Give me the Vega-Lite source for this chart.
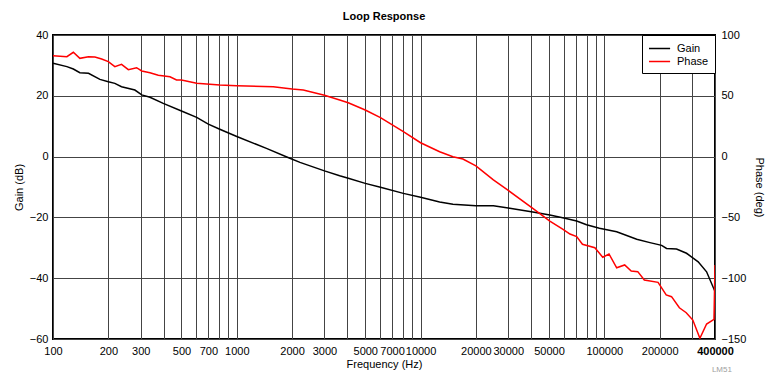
{
  "$schema": "https://vega.github.io/schema/vega-lite/v6.json",
  "width": 662,
  "height": 304,
  "autosize": "none",
  "padding": {"left": 53, "top": 35, "right": 63, "bottom": 35},
  "background": "white",
  "title": {"text": "Loop Response", "fontSize": 11, "fontWeight": "bold", "font": "Liberation Sans", "offset": 7, "color": "black"},
  "config": {
    "font": "Liberation Sans",
    "view": {"stroke": "black", "strokeWidth": 2},
    "axis": {"labelFont": "Liberation Sans", "titleFont": "Liberation Sans", "labelFontSize": 11, "titleFontSize": 11, "titleFontWeight": "normal", "labelColor": "black", "titleColor": "black", "gridColor": "#444", "gridOpacity": 1, "gridWidth": 1, "ticks": false, "domain": false}
  },
  "datasets": {
    "gain": [
      {"f": 100, "g": 30.7}, {"f": 119, "g": 29.6}, {"f": 129, "g": 28.8}, {"f": 140, "g": 27.6},
      {"f": 156, "g": 27.4}, {"f": 180, "g": 25.4}, {"f": 200, "g": 24.6}, {"f": 217, "g": 24.1},
      {"f": 236, "g": 23.0}, {"f": 279, "g": 21.9}, {"f": 304, "g": 20.3}, {"f": 337, "g": 19.5},
      {"f": 398, "g": 17.5}, {"f": 500, "g": 15.0}, {"f": 605, "g": 12.9}, {"f": 700, "g": 10.7},
      {"f": 808, "g": 9.0}, {"f": 1000, "g": 6.6}, {"f": 1450, "g": 2.7}, {"f": 1900, "g": -0.3},
      {"f": 2207, "g": -1.9}, {"f": 3000, "g": -4.7}, {"f": 3630, "g": -6.3}, {"f": 4044, "g": -7.1},
      {"f": 5000, "g": -8.8}, {"f": 6050, "g": -10.1}, {"f": 8060, "g": -12.1}, {"f": 10000, "g": -13.4},
      {"f": 12700, "g": -14.9}, {"f": 15000, "g": -15.7}, {"f": 20000, "g": -16.2}, {"f": 24900, "g": -16.2},
      {"f": 30000, "g": -16.9}, {"f": 40800, "g": -18.2}, {"f": 50500, "g": -19.2}, {"f": 61000, "g": -20.3},
      {"f": 70700, "g": -21.2}, {"f": 80000, "g": -22.4}, {"f": 94000, "g": -23.6}, {"f": 100000, "g": -23.9},
      {"f": 116700, "g": -24.7}, {"f": 150000, "g": -27.2}, {"f": 177000, "g": -28.3}, {"f": 205000, "g": -29.2},
      {"f": 218000, "g": -30.2}, {"f": 247000, "g": -30.4}, {"f": 280000, "g": -31.8}, {"f": 324000, "g": -34.6},
      {"f": 360000, "g": -37.9}, {"f": 400000, "g": -44.4}
    ],
    "phase": [
      {"f": 100, "p": 83.0}, {"f": 119, "p": 82.2}, {"f": 129, "p": 85.8}, {"f": 140, "p": 80.8},
      {"f": 156, "p": 82.2}, {"f": 169, "p": 81.9}, {"f": 184, "p": 80.3}, {"f": 200, "p": 78.1},
      {"f": 217, "p": 74.0}, {"f": 236, "p": 75.9}, {"f": 257, "p": 71.5}, {"f": 285, "p": 73.1},
      {"f": 304, "p": 70.4}, {"f": 337, "p": 69.0}, {"f": 374, "p": 66.9}, {"f": 433, "p": 65.7},
      {"f": 470, "p": 63.0}, {"f": 500, "p": 63.0}, {"f": 605, "p": 60.3}, {"f": 808, "p": 58.9},
      {"f": 1000, "p": 58.3}, {"f": 1580, "p": 57.5}, {"f": 2000, "p": 55.6}, {"f": 2300, "p": 54.8},
      {"f": 3000, "p": 50.5}, {"f": 3630, "p": 46.5}, {"f": 4040, "p": 44.3}, {"f": 5000, "p": 38.3},
      {"f": 6050, "p": 32.0}, {"f": 8060, "p": 20.5}, {"f": 10000, "p": 11.4}, {"f": 12700, "p": 4.0},
      {"f": 15000, "p": -0.1}, {"f": 17000, "p": -2.0}, {"f": 20000, "p": -7.7}, {"f": 24900, "p": -19.2},
      {"f": 30000, "p": -27.8}, {"f": 40800, "p": -42.5}, {"f": 50500, "p": -53.0}, {"f": 59600, "p": -59.8},
      {"f": 65000, "p": -63.7}, {"f": 70700, "p": -65.8}, {"f": 76000, "p": -72.1}, {"f": 88800, "p": -74.9},
      {"f": 98000, "p": -82.8}, {"f": 106000, "p": -80.1}, {"f": 116700, "p": -91.4}, {"f": 129000, "p": -89.1},
      {"f": 140000, "p": -94.1}, {"f": 152000, "p": -94.6}, {"f": 165000, "p": -101.5}, {"f": 196000, "p": -103.4},
      {"f": 217000, "p": -113.8}, {"f": 232000, "p": -115.2}, {"f": 256000, "p": -124.3}, {"f": 279000, "p": -128.4},
      {"f": 303000, "p": -134.4}, {"f": 331000, "p": -149.4}, {"f": 360000, "p": -137.7}, {"f": 395000, "p": -133.8},
      {"f": 400000, "p": -89.1}
    ],
    "note": [{"f": 436000, "g": -70.2, "t": "LM51"}]
  },
  "layer": [
    {
      "data": {"name": "gain"},
      "mark": {"type": "line", "strokeWidth": 1.5, "clip": true},
      "encoding": {
        "x": {
          "field": "f", "type": "quantitative",
          "scale": {"type": "log", "domain": [100, 400000], "nice": false},
          "axis": {
            "title": "Frequency (Hz)",
            "values": [100, 200, 300, 400, 500, 600, 700, 800, 900, 1000, 2000, 3000, 4000, 5000, 6000, 7000, 8000, 9000, 10000, 20000, 30000, 40000, 50000, 60000, 70000, 80000, 90000, 100000, 200000, 300000, 400000],
            "labelExpr": "indexof([100,200,300,500,700,1000,2000,3000,5000,7000,10000,20000,30000,50000,100000,200000,400000], datum.value) >= 0 ? format(datum.value, 'd') : ''",
            "labelFontWeight": {"condition": {"test": "datum.value == 400000", "value": "bold"}, "value": "normal"},
            "grid": true, "labelOverlap": false, "labelFlush": false, "labelBound": false,
            "labelPadding": 6, "titlePadding": 2
          }
        },
        "y": {
          "field": "g", "type": "quantitative",
          "scale": {"domain": [-60, 40], "nice": false, "zero": false},
          "axis": {"title": "Gain (dB)", "values": [-60, -40, -20, 0, 20, 40], "grid": true, "labelPadding": 5, "titlePadding": 5}
        },
        "color": {
          "datum": "Gain",
          "scale": {"domain": ["Gain", "Phase"], "range": ["black", "red"]},
          "legend": {
            "title": null, "orient": "top-right", "offset": 0,
            "fillColor": "white", "strokeColor": "black",
            "padding": 6, "symbolType": "M-1,0H2.25", "symbolSize": 169, "symbolStrokeWidth": 1.5,
            "symbolFillColor": "transparent",
            "labelFontSize": 11, "labelFont": "Liberation Sans", "labelColor": "black", "labelOffset": 14, "rowPadding": 0
          }
        }
      }
    },
    {
      "data": {"name": "phase"},
      "mark": {"type": "line", "strokeWidth": 1.5, "clip": true},
      "encoding": {
        "x": {"field": "f", "type": "quantitative", "scale": {"type": "log", "domain": [100, 400000], "nice": false}},
        "y": {
          "field": "p", "type": "quantitative",
          "scale": {"domain": [-150, 100], "nice": false, "zero": false},
          "axis": {"title": "Phase (deg)", "orient": "right", "values": [-150, -100, -50, 0, 50, 100], "grid": false, "labelPadding": 6, "titlePadding": 8}
        },
        "color": {"datum": "Phase"}
      }
    },
    {
      "data": {"name": "note"},
      "mark": {"type": "text", "fontSize": 8, "color": "#a0a0a0", "font": "Liberation Sans"},
      "encoding": {
        "x": {"field": "f", "type": "quantitative", "scale": {"type": "log", "domain": [100, 400000], "nice": false}},
        "y": {"field": "g", "type": "quantitative", "scale": {"domain": [-60, 40], "nice": false, "zero": false}, "axis": null},
        "text": {"field": "t"}
      }
    }
  ],
  "resolve": {"scale": {"y": "independent"}}
}
